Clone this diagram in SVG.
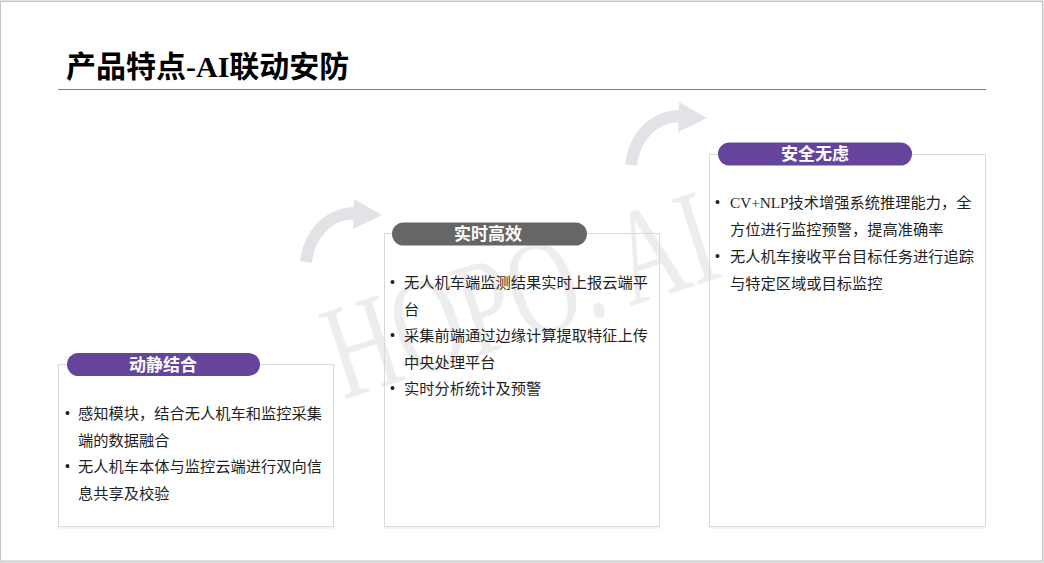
<svg xmlns="http://www.w3.org/2000/svg" width="1044" height="563" viewBox="0 0 1044 563">
  <defs>
    <style>
      .frame { fill: #ffffff; stroke: #c4c4c4; stroke-width: 1; }
      .box { fill: none; stroke: #d9d9d9; stroke-width: 1; }
      .shadow { fill: none; stroke: #ececec; stroke-width: 1.2; }
      .pill-purple { fill: #66449b; }
      .pill-gray { fill: #666666; }
      .pill-text { font-family: "Noto Sans CJK SC", "Noto Sans", sans-serif; font-weight: 700; font-size: 17px; fill: #ffffff; text-anchor: middle; }
      .body { font-family: "Liberation Serif", "Noto Sans CJK SC", serif; font-size: 15.25px; fill: #1f1f1f; }
      .bullet { font-family: "Liberation Sans", sans-serif; font-size: 14px; fill: #1f1f1f; }
      .title { font-family: "Liberation Serif", "Noto Sans CJK SC", serif; font-weight: 700; font-size: 30px; fill: #000000; }
      .arrow-band { fill: none; stroke: #e2e3e7; stroke-width: 12; }
      .arrow-head { fill: #e2e3e7; }
      .wm { font-family: "Liberation Serif", serif; font-size: 136px; fill: #000000; fill-opacity: 0.07; }
    </style>
    <g id="curved-arrow">
      <path class="arrow-band" d="M306,262 C309,236 326,214 355,213"/>
      <polygon class="arrow-head" points="354,199 382,215 353,229"/>
    </g>
  </defs>

  <rect x="0" y="0" width="1044" height="563" fill="#e3e3e3"/>
  <rect class="frame" x="0.5" y="1.5" width="1042" height="559.5"/>

  <g id="title">
    <text class="title" x="66" y="77">产品特点-AI联动安防</text>
    <line x1="58" y1="89.5" x2="986" y2="89.5" stroke="#808080" stroke-width="1"/>
  </g>

  <g id="watermark">
    <text class="wm" transform="translate(343,400) rotate(-18) scale(0.7,1)">HOPO. AI</text>
  </g>

  <g id="connectors">
    <use href="#curved-arrow"/>
    <use href="#curved-arrow" transform="translate(325,-97)"/>
  </g>

  <g id="node-dongjing">
    <line class="shadow" x1="58" y1="528" x2="334" y2="528"/>
    <rect class="box" x="58.5" y="364.5" width="275" height="162"/>
    <rect class="pill-purple" x="67" y="353" width="193" height="23" rx="11.5"/>
    <text class="pill-text" x="163" y="370.5">动静结合</text>
    <text class="bullet" x="65" y="418">•</text>
    <text class="body" x="78" y="419">感知模块，结合无人机车和监控采集</text>
    <text class="body" x="78" y="445.5">端的数据融合</text>
    <text class="bullet" x="65" y="471">•</text>
    <text class="body" x="78" y="472">无人机车本体与监控云端进行双向信</text>
    <text class="body" x="78" y="498.5">息共享及校验</text>
  </g>

  <g id="node-shishi">
    <line class="shadow" x1="384" y1="528" x2="660" y2="528"/>
    <rect class="box" x="384.5" y="233.5" width="275" height="293"/>
    <rect class="pill-gray" x="392" y="222.5" width="195" height="23" rx="11.5"/>
    <text class="pill-text" x="488" y="240">实时高效</text>
    <text class="bullet" x="390" y="287">•</text>
    <text class="body" x="404" y="288">无人机车端监测结果实时上报云端平</text>
    <text class="body" x="404" y="314.5">台</text>
    <text class="bullet" x="390" y="340">•</text>
    <text class="body" x="404" y="341">采集前端通过边缘计算提取特征上传</text>
    <text class="body" x="404" y="367.5">中央处理平台</text>
    <text class="bullet" x="390" y="393">•</text>
    <text class="body" x="404" y="394">实时分析统计及预警</text>
  </g>

  <g id="node-anquan">
    <line class="shadow" x1="709" y1="528" x2="986" y2="528"/>
    <rect class="box" x="709.5" y="154.5" width="276" height="372"/>
    <rect class="pill-purple" x="718" y="142.5" width="194" height="23" rx="11.5"/>
    <text class="pill-text" x="815" y="160">安全无虑</text>
    <text class="bullet" x="715" y="207">•</text>
    <text class="body" x="730" y="208">CV+NLP技术增强系统推理能力，全</text>
    <text class="body" x="730" y="234.5">方位进行监控预警，提高准确率</text>
    <text class="bullet" x="715" y="261">•</text>
    <text class="body" x="730" y="262">无人机车接收平台目标任务进行追踪</text>
    <text class="body" x="730" y="288.5">与特定区域或目标监控</text>
  </g>
</svg>
